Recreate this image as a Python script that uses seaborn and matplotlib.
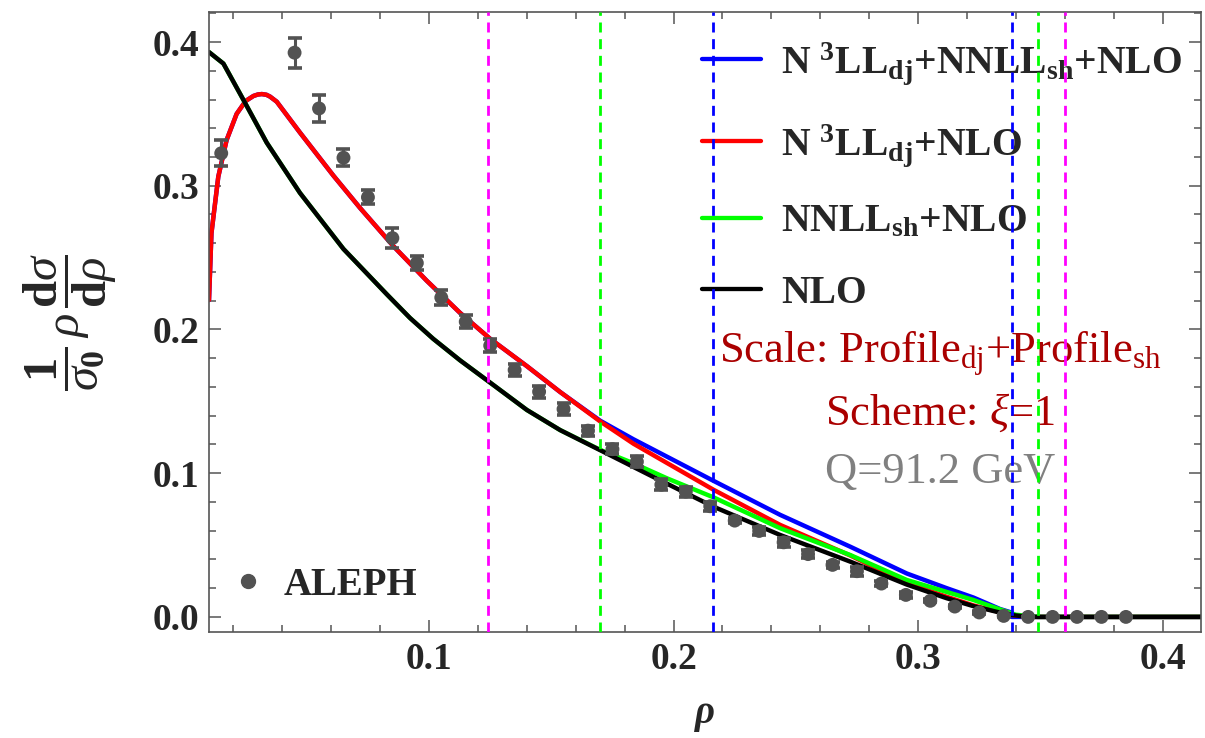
import numpy as np
import pandas as pd
import matplotlib
matplotlib.use("Agg")
import matplotlib.pyplot as plt
from matplotlib.lines import Line2D
from matplotlib.ticker import MultipleLocator, FormatStrFormatter
import seaborn as sns

# ---------------- data ----------------
# NLO (black)
rho_nlo = [0.0100, 0.0159, 0.0240, 0.0336, 0.0472, 0.0650, 0.0827, 0.0922, 0.1017, 0.1127,
           0.1250, 0.1400, 0.1536, 0.1700, 0.1904, 0.2163, 0.2436, 0.2722, 0.2954,
           0.3117, 0.3226, 0.3335, 0.3390, 0.3450, 0.4200]
val_nlo = [0.3930, 0.3850, 0.3600, 0.3300, 0.2950, 0.2560, 0.2245, 0.2080, 0.1935, 0.1785,
           0.1630, 0.1440, 0.1300, 0.1160, 0.0985, 0.0767, 0.0570, 0.0385, 0.0225,
           0.0130, 0.0075, 0.0030, 0.0012, 0.0000, 0.0000]

# NNLL_sh + NLO (green)
rho_sh = [0.0100, 0.0159, 0.0240, 0.0336, 0.0472, 0.0650, 0.0827, 0.0922, 0.1017, 0.1127,
          0.1250, 0.1400, 0.1536, 0.1700, 0.1836, 0.1972, 0.2163, 0.2436, 0.2722,
          0.2954, 0.3226, 0.3322, 0.3400, 0.3490, 0.4200]
val_sh = [0.3930, 0.3850, 0.3600, 0.3300, 0.2950, 0.2560, 0.2245, 0.2080, 0.1935, 0.1785,
          0.1630, 0.1440, 0.1300, 0.1162, 0.1069, 0.0965, 0.0832, 0.0617, 0.0431,
          0.0257, 0.0118, 0.0060, 0.0015, 0.0000, 0.0000]

# N3LL_dj + NLO (red)
rho_dj = [0.0100, 0.0110, 0.0138, 0.0172, 0.0213, 0.0250, 0.0282, 0.0300, 0.0316, 0.0335,
          0.0350, 0.0377, 0.0472, 0.0609, 0.0718, 0.0854, 0.0990, 0.1127, 0.1250, 0.1400,
          0.1536, 0.1700, 0.1836, 0.2163, 0.2436, 0.2722, 0.2954, 0.3117, 0.3226,
          0.3335, 0.3390, 0.3450, 0.4200]
val_dj = [0.2205, 0.2670, 0.3063, 0.3318, 0.3500, 0.3590, 0.3625, 0.3635, 0.3638, 0.3633,
          0.3620, 0.3585, 0.3370, 0.3070, 0.2845, 0.2580, 0.2340, 0.2115, 0.1935, 0.1745,
          0.1565, 0.1360, 0.1205, 0.0885, 0.0640, 0.0428, 0.0235, 0.0140, 0.0080,
          0.0033, 0.0012, 0.0000, 0.0000]

# N3LL_dj + NNLL_sh + NLO (blue)
rho_full = [0.0100, 0.0110, 0.0138, 0.0172, 0.0213, 0.0250, 0.0282, 0.0300, 0.0316, 0.0335,
            0.0350, 0.0377, 0.0472, 0.0609, 0.0718, 0.0854, 0.0990, 0.1127, 0.1250, 0.1400,
            0.1536, 0.1700, 0.1836, 0.2163, 0.2436, 0.2722, 0.2954, 0.3117, 0.3226,
            0.3335, 0.3383, 0.3383, 0.4200]
val_full = [0.2205, 0.2670, 0.3063, 0.3318, 0.3500, 0.3590, 0.3625, 0.3635, 0.3638, 0.3633,
            0.3620, 0.3585, 0.3370, 0.3070, 0.2845, 0.2580, 0.2340, 0.2115, 0.1935, 0.1745,
            0.1565, 0.1365, 0.1236, 0.0947, 0.0710, 0.0489, 0.0302, 0.0200, 0.0135,
            0.0055, 0.0030, 0.0000, 0.0000]

# ALEPH data
aleph_rho = [0.015, 0.045, 0.055, 0.065, 0.075, 0.085, 0.095, 0.105, 0.115, 0.125,
             0.135, 0.145, 0.155, 0.165, 0.175, 0.185, 0.195, 0.205, 0.215, 0.225,
             0.235, 0.245, 0.255, 0.265, 0.275, 0.285, 0.295, 0.305, 0.315, 0.325,
             0.335, 0.345, 0.355, 0.365, 0.375, 0.385]
aleph_val = [0.3226, 0.3926, 0.3538, 0.3195, 0.2920, 0.2636, 0.2462, 0.2222, 0.2054, 0.1888,
             0.1718, 0.1567, 0.1446, 0.1296, 0.1167, 0.1080, 0.0920, 0.0872, 0.0770, 0.0670,
             0.0598, 0.0519, 0.0437, 0.0362, 0.0318, 0.0232, 0.0153, 0.0112, 0.0072, 0.0031,
             0.0007, 0.0000, 0.0000, 0.0000, 0.0000, 0.0000]
aleph_err = [0.0090, 0.0105, 0.0095, 0.0060, 0.0050, 0.0068, 0.0050, 0.0050, 0.0045, 0.0045,
             0.0045, 0.0042, 0.0040, 0.0035, 0.0035, 0.0040, 0.0040, 0.0035, 0.0030, 0.0020,
             0.0030, 0.0030, 0.0030, 0.0020, 0.0030, 0.0020, 0.0020, 0.0010, 0.0010, 0.0010,
             0.0005, 0.0000, 0.0000, 0.0000, 0.0000, 0.0000]

# transition points (dashed vertical lines)
trans_rho = [0.1243, 0.1700, 0.2162, 0.3383, 0.3492, 0.3601]
trans_col = ["#FF00FF", "#00FF00", "#0000FF", "#0000FF", "#00FF00", "#FF00FF"]

curve_labels = [r"N $^{\mathbf{3}}$LL$_{\mathbf{dj}}$+NNLL$_{\mathbf{sh}}$+NLO",
                r"N $^{\mathbf{3}}$LL$_{\mathbf{dj}}$+NLO",
                r"NNLL$_{\mathbf{sh}}$+NLO",
                "NLO"]
curve_colors = ["#0000FF", "#FF0000", "#00FF00", "#000000"]

# ---------------- style ----------------
sns.set_theme(style="ticks")
plt.rcParams["font.family"] = ["Liberation Serif", "DejaVu Serif"]
plt.rcParams["mathtext.fontset"] = "custom"
plt.rcParams["mathtext.rm"] = "Liberation Serif"
plt.rcParams["mathtext.it"] = "Liberation Serif:italic"
plt.rcParams["mathtext.bf"] = "Liberation Serif:bold"

fig = plt.figure(figsize=(12.05, 7.38), dpi=100)
ax = fig.add_axes([209 / 1205, 1 - 632 / 738, 992 / 1205, 620 / 738])

curves = [(rho_full, val_full), (rho_dj, val_dj), (rho_sh, val_sh), (rho_nlo, val_nlo)]
for (xr, yv), c in zip(curves, curve_colors):
    df = pd.DataFrame({"rho": xr, "val": yv})
    sns.lineplot(data=df, x="rho", y="val", ax=ax, color=c, lw=3.2,
                 sort=False, estimator=None, legend=False, zorder=2)

pt_col = "#525252"
ax.errorbar(aleph_rho, aleph_val, yerr=aleph_err, fmt="none", ecolor=pt_col,
            elinewidth=2.2, capsize=4.8, capthick=2.6, zorder=3)
sns.scatterplot(x=aleph_rho, y=aleph_val, ax=ax, color=pt_col, s=100,
                edgecolor="none", zorder=4, legend=False)

for xv, c in zip(trans_rho, trans_col):
    ax.axvline(xv, color=c, lw=2.0, ls=(0, (3.6, 2.4)), zorder=6)

ax.set_xlim(0.0100, 0.4157)
ax.set_ylim(-0.0105, 0.4209)

ax.xaxis.set_major_locator(MultipleLocator(0.1))
ax.xaxis.set_minor_locator(MultipleLocator(0.02))
ax.yaxis.set_major_locator(MultipleLocator(0.1))
ax.yaxis.set_minor_locator(MultipleLocator(0.02))
ax.xaxis.set_major_formatter(FormatStrFormatter("%.1f"))
ax.yaxis.set_major_formatter(FormatStrFormatter("%.1f"))

ax.tick_params(which="both", direction="in", top=True, right=True,
               color="#555555", width=1.1)
ax.tick_params(which="major", length=8.5, labelsize=27, pad=7)
ax.tick_params(which="minor", length=5)
for lab in ax.get_xticklabels() + ax.get_yticklabels():
    lab.set_fontweight("bold")
for s in ax.spines.values():
    s.set_color("#555555")
    s.set_linewidth(1.2)

ax.set_xlabel("ρ", fontsize=28, fontweight="bold", fontstyle="italic", labelpad=13)
ax.set_ylabel(r"$\dfrac{\mathbf{1}}{\sigma_{\mathbf{0}}}\,\rho\,\dfrac{\mathbf{d}\sigma}{\mathbf{d}\rho}$",
              fontsize=35, labelpad=24)

handles = [Line2D([], [], color=c, lw=3.1) for c in curve_colors]
leg = ax.legend(handles, curve_labels, loc="upper left", bbox_to_anchor=(0.497, 0.955),
                frameon=False, prop={"size": 28.5, "weight": "bold"},
                handlelength=1.5, handletextpad=0.5, labelspacing=0.88,
                borderpad=0, borderaxespad=0)
ax.add_artist(leg)

aleph_h = [Line2D([], [], marker="o", ls="none", color=pt_col, markersize=10)]
ax.legend(aleph_h, ["ALEPH"], loc="lower left", bbox_to_anchor=(0.02, 0.045),
          frameon=False, prop={"size": 28, "weight": "bold"},
          handlelength=1.0, handletextpad=0.4, borderpad=0, borderaxespad=0)

ax.text(0.737, 0.434, r"Scale: Profile$_{\rm dj}$+Profile$_{\rm sh}$", transform=ax.transAxes,
        ha="center", va="baseline", fontsize=32, color="#AA0000", zorder=5)
ax.text(0.737, 0.334, r"Scheme: $\xi$=1", transform=ax.transAxes,
        ha="center", va="baseline", fontsize=32, color="#AA0000", zorder=5)
ax.text(0.737, 0.240, "Q=91.2 GeV", transform=ax.transAxes,
        ha="center", va="baseline", fontsize=32, color="#808080", zorder=5)

fig.savefig("out.png", dpi=100)
